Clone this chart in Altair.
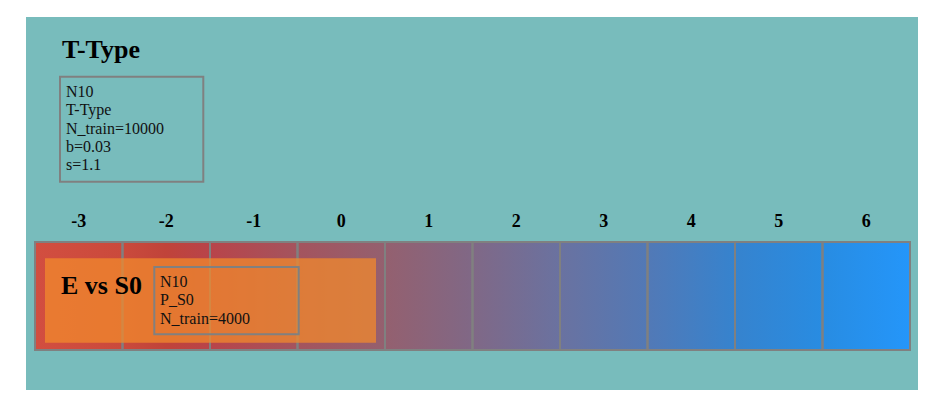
import altair as alt
import pandas as pd

# ---- data ----
cells = [-3, -2, -1, 0, 1, 2, 3, 4, 5, 6]
cell_labels = ["-3", "-2", "-1", "0", "1", "2", "3", "4", "5", "6"]
title_text = "T-Type"
info_lines = ["N10", "T-Type", "N_train=10000", "b=0.03", "s=1.1"]
panel_title = "E vs S0"
panel_lines = ["N10", "P_S0", "N_train=4000"]
grad_offsets = [0.0, 0.1, 0.15, 0.2, 0.3, 0.4, 0.5, 0.6, 0.7, 0.8, 0.9, 1.0]
grad_colors = ["#D24E40", "#CA4A3C", "#C0433A", "#B8444A", "#A4545E", "#94606F",
               "#806886", "#6A72A0", "#5279B6", "#3683CE", "#288CE2", "#2496FA"]

# ---- layout / style ----
W, H = 875, 373
FONT = "Liberation Serif"
GRAY = "#808080"
one = pd.DataFrame({"k": [0]})
xs = alt.Scale(domain=[-3.5, 6.5], nice=False, zero=False)

cell_df = pd.DataFrame({"v": cells, "label": cell_labels})

background = alt.Chart(one).mark_rect(color="#78BCBC").encode(
    x=alt.value(-9), x2=alt.value(883), y=alt.value(0), y2=alt.value(H))

title = alt.Chart(one).mark_text(
    text=title_text, font=FONT, fontSize=26, fontWeight="bold",
    align="left", baseline="alphabetic", color="black").encode(
    x=alt.value(27), y=alt.value(41.3))

info_box = alt.Chart(one).mark_rect(fillOpacity=0, stroke=GRAY, strokeWidth=2).encode(
    x=alt.value(25), x2=alt.value(168.3), y=alt.value(59.7), y2=alt.value(164.7))

info_text = alt.Chart(one).mark_text(
    text=info_lines, font=FONT, fontSize=16, lineHeight=18.2,
    align="left", baseline="alphabetic", color="#111").encode(
    x=alt.value(31), y=alt.value(80.3))

gradient = alt.Chart(one).mark_rect(
    color=alt.LinearGradient(
        gradient="linear",
        stops=[alt.GradientStop(color=c, offset=o) for c, o in zip(grad_colors, grad_offsets)],
        x1=0, x2=1, y1=0, y2=0)).encode(
    x=alt.value(0), x2=alt.value(W), y=alt.value(225), y2=alt.value(333))

cell_rects = alt.Chart(cell_df).transform_calculate(
    start="datum.v - 0.5", end="datum.v + 0.5").mark_rect(
    fillOpacity=0, stroke=GRAY, strokeWidth=2).encode(
    x=alt.X("start:Q", scale=xs, axis=None), x2="end:Q",
    y=alt.value(225), y2=alt.value(333))

labels = alt.Chart(cell_df).mark_text(
    font=FONT, fontSize=18, fontWeight="bold", align="center",
    baseline="alphabetic", color="black").encode(
    x=alt.X("v:Q", scale=xs, axis=None), y=alt.value(210), text="label:N")

orange = alt.Chart(one).mark_rect(color="#F28A2C", opacity=0.74).encode(
    x=alt.value(10), x2=alt.value(341), y=alt.value(241.3), y2=alt.value(325.7))

panel_t = alt.Chart(one).mark_text(
    text=panel_title, font=FONT, fontSize=26, fontWeight="bold",
    align="left", baseline="alphabetic", color="black").encode(
    x=alt.value(26), y=alt.value(277.3))

panel_box = alt.Chart(one).mark_rect(fillOpacity=0, stroke=GRAY, strokeWidth=2).encode(
    x=alt.value(119.3), x2=alt.value(263.7), y=alt.value(250), y2=alt.value(317.3))

panel_text = alt.Chart(one).mark_text(
    text=panel_lines, font=FONT, fontSize=16, lineHeight=18.6,
    align="left", baseline="alphabetic", color="#111").encode(
    x=alt.value(125), y=alt.value(269.7))

chart = alt.layer(
    background, title, info_box, info_text, gradient, cell_rects, labels,
    orange, panel_t, panel_box, panel_text
).properties(
    width=W, height=H,
    autosize=alt.AutoSizeParams(type="none"),
    padding={"left": 27, "top": 9, "right": 20, "bottom": 22},
    background="white",
).configure_view(stroke=None)

chart.save("out.html", embed_options={"renderer": "svg", "actions": False})
